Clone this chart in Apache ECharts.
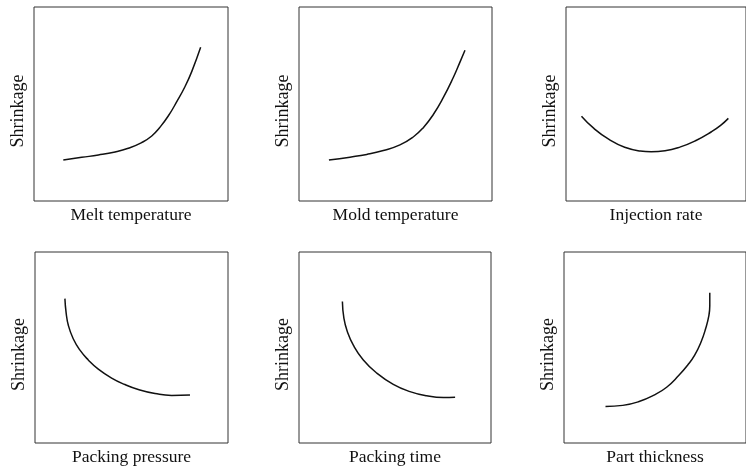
<!DOCTYPE html>
<html>
<head>
<meta charset="utf-8">
<script src="https://cdn.jsdelivr.net/npm/echarts@6/dist/echarts.min.js"></script>
<style>html,body{margin:0;padding:0;background:#fff;}#c{width:746px;height:467px;}</style>
</head>
<body>
<div id="c"></div>
<script>
// Axis titles
const xTitles = ['Melt temperature', 'Mold temperature', 'Injection rate', 'Packing pressure', 'Packing time', 'Part thickness'];
const yTitle = 'Shrinkage';

// Curve data (relative scale 0-100 on both axes)
const meltTempX = [15.1, 24.6, 33.2, 41.8, 48.6, 55.5, 60.7, 64.9, 69.2, 73.6, 77.8, 81.3, 85.9];
const meltTempY = [21.1, 22.5, 23.7, 25.3, 27.2, 30.1, 33.5, 38.0, 43.8, 51.2, 58.9, 66.7, 79.2];

const moldTempX = [15.5, 26.4, 35.1, 43.7, 52.3, 59.2, 64.4, 69.6, 74.8, 80.0, 83.4, 86.0];
const moldTempY = [21.1, 22.6, 24.0, 26.0, 28.9, 33.0, 37.8, 44.6, 53.4, 63.8, 71.6, 77.7];

const injRateX = [8.6, 15.5, 24.1, 32.6, 41.2, 47.3, 55.0, 63.6, 72.2, 80.8, 85.9, 90.2];
const injRateY = [43.7, 37.4, 31.6, 27.7, 25.8, 25.4, 25.9, 27.9, 31.2, 35.7, 39.0, 42.6];

const packPressX = [15.5, 16.1, 17.3, 19.8, 23.3, 27.6, 32.8, 39.7, 46.6, 53.5, 62.2, 70.8, 80.3];
const packPressY = [75.6, 68.4, 61.5, 54.6, 48.6, 43.5, 38.7, 34.0, 30.6, 28.0, 25.9, 24.9, 25.1];

const packTimeX = [22.6, 23.4, 25.2, 28.3, 33.5, 40.5, 49.1, 57.8, 66.5, 75.2, 81.3];
const packTimeY = [74.1, 65.2, 58.3, 51.2, 43.5, 36.6, 30.7, 26.9, 24.7, 23.8, 23.9];

const thickX = [22.8, 32.3, 40.9, 49.5, 56.4, 63.0, 68.0, 71.8, 75.3, 77.8, 79.6, 80.1, 80.1];
const thickY = [19.1, 19.7, 21.6, 25.1, 29.2, 35.3, 40.8, 46.0, 52.9, 59.8, 66.7, 71.8, 78.7];

const curves = [
  [meltTempX, meltTempY], [moldTempX, moldTempY], [injRateX, injRateY],
  [packPressX, packPressY], [packTimeX, packTimeY], [thickX, thickY]
];

// Panel boxes (layout only)
const boxes = [
  {left: 34, top: 7, width: 194, height: 194},
  {left: 299, top: 7, width: 193, height: 194},
  {left: 566, top: 7, width: 194, height: 194},
  {left: 35, top: 252, width: 193, height: 194},
  {left: 299, top: 252, width: 192, height: 194},
  {left: 564, top: 252, width: 194, height: 194}
];

const xFont = {fontFamily: 'Liberation Serif', fontSize: 17.5, color: '#111'};
const yFont = {fontFamily: 'Liberation Serif', fontSize: 18, color: '#111'};

const grid = [], xAxis = [], yAxis = [], series = [];
boxes.forEach((b, i) => {
  grid.push({left: b.left, top: b.top, width: b.width, height: b.height, show: true,
    borderColor: '#333', borderWidth: 1, backgroundColor: 'transparent', containLabel: false});
  xAxis.push({type: 'value', gridIndex: i, min: 0, max: 100, name: xTitles[i],
    nameLocation: 'middle', nameGap: 5, nameTextStyle: Object.assign({verticalAlign: 'top'}, xFont),
    axisLine: {show: false}, axisTick: {show: false}, axisLabel: {show: false}, splitLine: {show: false}});
  yAxis.push({type: 'value', gridIndex: i, min: 0, max: 100, name: yTitle,
    nameLocation: 'middle', nameGap: 7, nameRotate: 90,
    nameTextStyle: Object.assign({padding: [0, 14, 0, 0]}, yFont),
    axisLine: {show: false}, axisTick: {show: false}, axisLabel: {show: false}, splitLine: {show: false}});
  const c = curves[i];
  series.push({type: 'line', xAxisIndex: i, yAxisIndex: i, smooth: 0.5, showSymbol: false,
    lineStyle: {color: '#111', width: 1.5}, silent: true,
    data: c[0].map((x, k) => [x, c[1][k]])});
});

const chart = echarts.init(document.getElementById('c'), null, {renderer: 'canvas'});
chart.setOption({animation: false, backgroundColor: '#fff', grid, xAxis, yAxis, series});
</script>
</body>
</html>
